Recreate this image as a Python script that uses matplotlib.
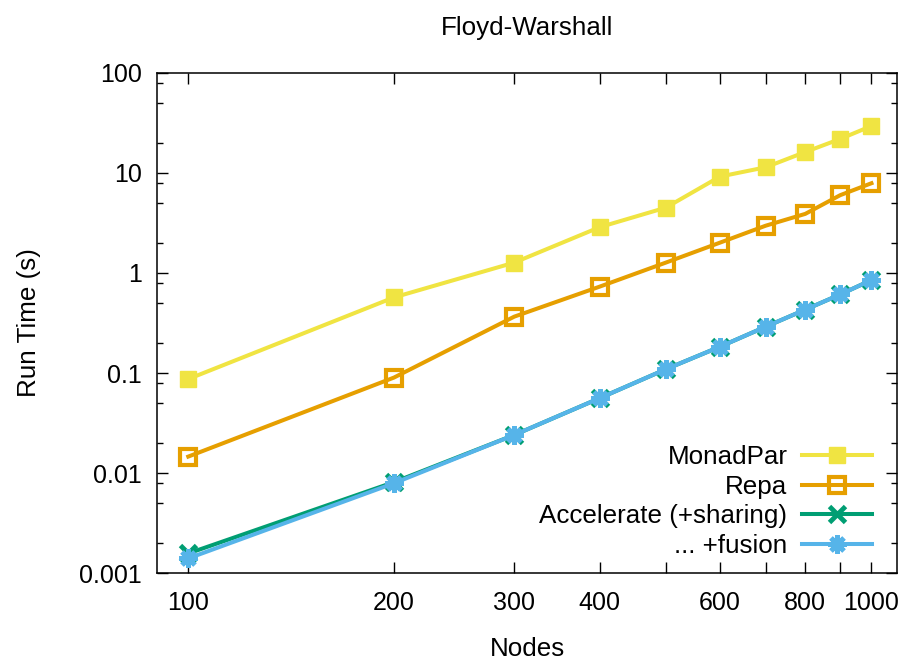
import matplotlib
matplotlib.use('Agg')
import matplotlib.pyplot as plt
from matplotlib.ticker import LogLocator, FixedLocator, FixedFormatter, NullFormatter

plt.rcParams['font.family'] = ['Liberation Sans', 'DejaVu Sans']
plt.rcParams['font.size'] = 18

# data
nodes = [100, 200, 300, 400, 500, 600, 700, 800, 900, 1000]
monadpar = [0.087, 0.57, 1.27, 2.87, 4.5, 9.2, 11.4, 16.2, 21.9, 29.5]
repa = [0.0146, 0.090, 0.366, 0.73, 1.27, 2.01, 2.97, 3.9, 6.0, 7.9]
accel_sharing = [0.00157, 0.0081, 0.024, 0.056, 0.109, 0.183, 0.29, 0.43, 0.61, 0.85]
accel_fusion = [0.0014, 0.0079, 0.024, 0.056, 0.109, 0.183, 0.29, 0.43, 0.61, 0.85]

x_ticks = [100, 200, 300, 400, 500, 600, 700, 800, 900, 1000]
x_ticklabels = ['100', '200', '300', '400', '', '600', '', '800', '', '1000']
y_ticks = [0.001, 0.01, 0.1, 1, 10, 100]
y_ticklabels = ['0.001', '0.01', '0.1', '1', '10', '100']

fig = plt.figure(figsize=(9.05, 6.61), dpi=100)
ax = fig.add_axes([0.1735, 0.1331, 0.8177, 0.7565])

lw = 2.9
ax.plot(nodes, monadpar, color='#f0e442', lw=lw, marker='s', ms=12,
        mec='#f0e442', label='MonadPar')
ax.plot(nodes, repa, color='#e69f00', lw=lw, marker='s', ms=11,
        mfc='none', mec='#e69f00', mew=3, label='Repa')
ax.plot(nodes, accel_sharing, color='#009e73', lw=lw, marker='x', ms=11,
        mew=3.5, label='Accelerate (+sharing)')
ax.plot(nodes, accel_fusion, color='#56b4e9', lw=lw, marker=(8, 2, 0), ms=13,
        mew=3.5, label='... +fusion')

ax.set_xscale('log')
ax.set_yscale('log')
ax.set_xlim(90, 1090)
ax.set_ylim(0.001, 100)

ax.xaxis.set_major_locator(FixedLocator(x_ticks))
ax.xaxis.set_major_formatter(FixedFormatter(x_ticklabels))
ax.xaxis.set_minor_locator(FixedLocator([]))
ax.yaxis.set_major_locator(FixedLocator(y_ticks))
ax.yaxis.set_major_formatter(FixedFormatter(y_ticklabels))
ax.yaxis.set_minor_locator(LogLocator(base=10, subs=[2, 5, 8]))
ax.yaxis.set_minor_formatter(NullFormatter())

ax.tick_params(which='both', direction='in', top=True, right=True, width=1)
ax.tick_params(which='major', length=8)
ax.tick_params(which='minor', length=4)
ax.tick_params(axis='x', pad=13)
ax.tick_params(axis='y', pad=11)
for s in ax.spines.values():
    s.set_linewidth(1.1)

ax.set_title('Floyd-Warshall', fontsize=18.7, pad=27)
ax.set_xlabel('Nodes', fontsize=18.7, labelpad=16)
ax.set_ylabel('Run Time (s)', fontsize=18.7, labelpad=27)

leg = ax.legend(loc='lower right', bbox_to_anchor=(0.966, 0.03), frameon=False,
                markerfirst=False, numpoints=1, handlelength=2.7, fontsize=18.7,
                handletextpad=0.55, labelspacing=0.22, borderpad=0, borderaxespad=0)

fig.savefig('out.png', dpi=100)
